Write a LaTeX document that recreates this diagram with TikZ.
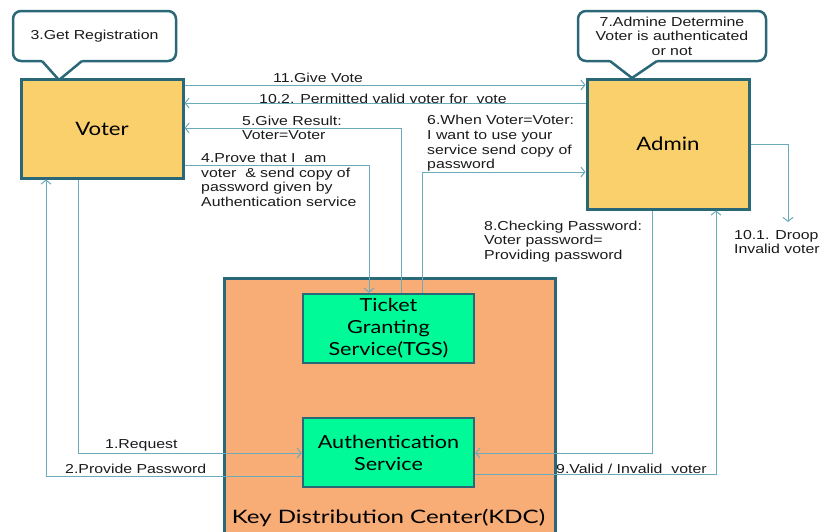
\documentclass[tikz,border=0pt]{standalone}
\usepackage{fontspec}
\setmainfont{Liberation Sans}
\newfontfamily\labfont[FakeStretch=1.22]{Liberation Sans}
\newfontfamily\boxfont[FakeStretch=1.2]{Lato}
\newfontfamily\kdcfont[FakeStretch=1.3]{Lato}
\usetikzlibrary{arrows.meta,calc}
\definecolor{gold}{HTML}{F9D06C}
\definecolor{peach}{HTML}{F8AC76}
\definecolor{svcgreen}{HTML}{00FA98}
\definecolor{bordc}{HTML}{2A6878}
\definecolor{connc}{HTML}{6BAABA}
\definecolor{labc}{HTML}{1A1A1A}
\begin{document}
\begin{tikzpicture}[x=1pt,y=-1pt,
  actor/.style={draw=bordc, line width=3pt, fill=gold, minimum width=162pt, inner sep=0pt,
    font=\boxfont\fontsize{18.5}{22}\selectfont},
  kdcbox/.style={draw=bordc, line width=3pt, fill=peach, inner sep=0pt},
  svc/.style={draw=bordc, line width=2.5pt, fill=svcgreen, align=center, inner sep=0pt,
    minimum width=171pt, minimum height=69pt, font=\boxfont\fontsize{18}{22}\selectfont},
  conn/.style={draw=connc, line width=1pt, -{Straight Barb[length=4pt,width=10pt]}},
  lab/.style={inner sep=0pt, text=labc, font=\labfont\fontsize{13}{14.6}\selectfont, align=left},
  callbox/.style={draw=bordc, line width=2.5pt, fill=white, rounded corners=8pt, inner sep=0pt,
    minimum height=50pt, align=center, text=labc, font=\labfont\fontsize{13}{14.6}\selectfont},
  pointer/.style={draw=bordc, line width=2.5pt, line join=miter}
]
\useasboundingbox (0,0) rectangle (823,531);
\clip (0,0) rectangle (823,531);

% callouts
\node[callbox, minimum width=163pt] (cb3) at (94.5,36) {3.Get Registration};
\fill[white] (42,58) -- (42,61) -- (59,80) -- (82,61) -- (82,58) -- cycle;
\draw[pointer] (42,61) -- (59,80) -- (82,61);

\node[callbox, minimum width=188pt] (cb7) at (672,36) {7.Admine Determine\\Voter is authenticated\\or not};
\fill[white] (610,58) -- (610,61) -- (632,78) -- (657,61) -- (657,58) -- cycle;
\draw[pointer] (610,61) -- (632,78) -- (657,61);

% main boxes
\node[actor, minimum height=99pt] (voter) at (102,128.5) {Voter};
\node[actor, minimum height=130pt] (admin) at (668,144) {Admin};
\node[kdcbox, minimum width=331pt, minimum height=264pt, anchor=north west] (kdc) at (223,277) {};
\node[inner sep=0pt, font=\kdcfont\fontsize{18.5}{22}\selectfont] (kdclab) at (388.5,518) {Key Distribution Center(KDC)};
\node[svc] (tgs) at (388.5,328.5) {Ticket\\Granting\\Service(TGS)};
\node[svc] (auth) at (388.5,452.5) {Authentication\\Service};

% routing coordinates
\coordinate (r11) at (0,85);
\coordinate (r102) at (0,103);
\coordinate (c5) at (401,128);
\coordinate (c4) at (369,165);
\coordinate (c6) at (422,172);
\coordinate (c101) at (788,144);
\coordinate (e101) at (788,222);
\coordinate (c8) at (652,453);
\coordinate (c9) at (716,474);
\coordinate (c1) at (78,453);
\coordinate (c2) at (46,476);

% connectors
\draw[conn] (voter.east |- r11) -- (admin.west |- r11);
\draw[conn] (admin.west |- r102) -- (voter.east |- r102);
\draw[conn] (tgs.north -| c5) |- (voter.east |- c5);
\draw[conn] (voter.east |- c4) -| (tgs.north -| c4);
\draw[conn] (tgs.north -| c6) |- (admin.west |- c6);
\draw[conn] (admin.east |- c101) -| (e101);
\draw[conn] (admin.south -| c8) |- (auth.east |- c8);
\draw[conn] (auth.east |- c9) -| (admin.south -| c9);
\draw[conn] (voter.south -| c1) |- (auth.west |- c1);
\draw[conn] (auth.west |- c2) -| (voter.south -| c2);

% labels
\node[lab] (l11) at (318,78) {11.Give Vote};
\node[lab, anchor=west] (l102) at (259,99) {10.2. Permitted valid voter for\ \ vote};
\node[lab, anchor=west] (l5) at (242,128) {5.Give Result:\\Voter=Voter};
\node[lab, anchor=west] (l4) at (201,180) {4.Prove that I\ \ am\\voter\ \ \& send copy of\\password given by\\Authentication service};
\node[lab, anchor=west] (l6) at (427,143.5) {6.When Voter=Voter:\\I want to use your\\service send copy of\\password};
\node[lab, anchor=west] (l8) at (484,241.5) {8.Checking Password:\\Voter password=\\Providing password};
\node[lab, anchor=west] (l101) at (734,242) {10.1. Droop\\Invalid voter};
\node[lab, anchor=west] (l9) at (556,469) {9.Valid / Invalid\ \ voter};
\node[lab, anchor=west] (l1) at (105,445) {1.Request};
\node[lab, anchor=west] (l2) at (65,469) {2.Provide Password};
\end{tikzpicture}
\end{document}
